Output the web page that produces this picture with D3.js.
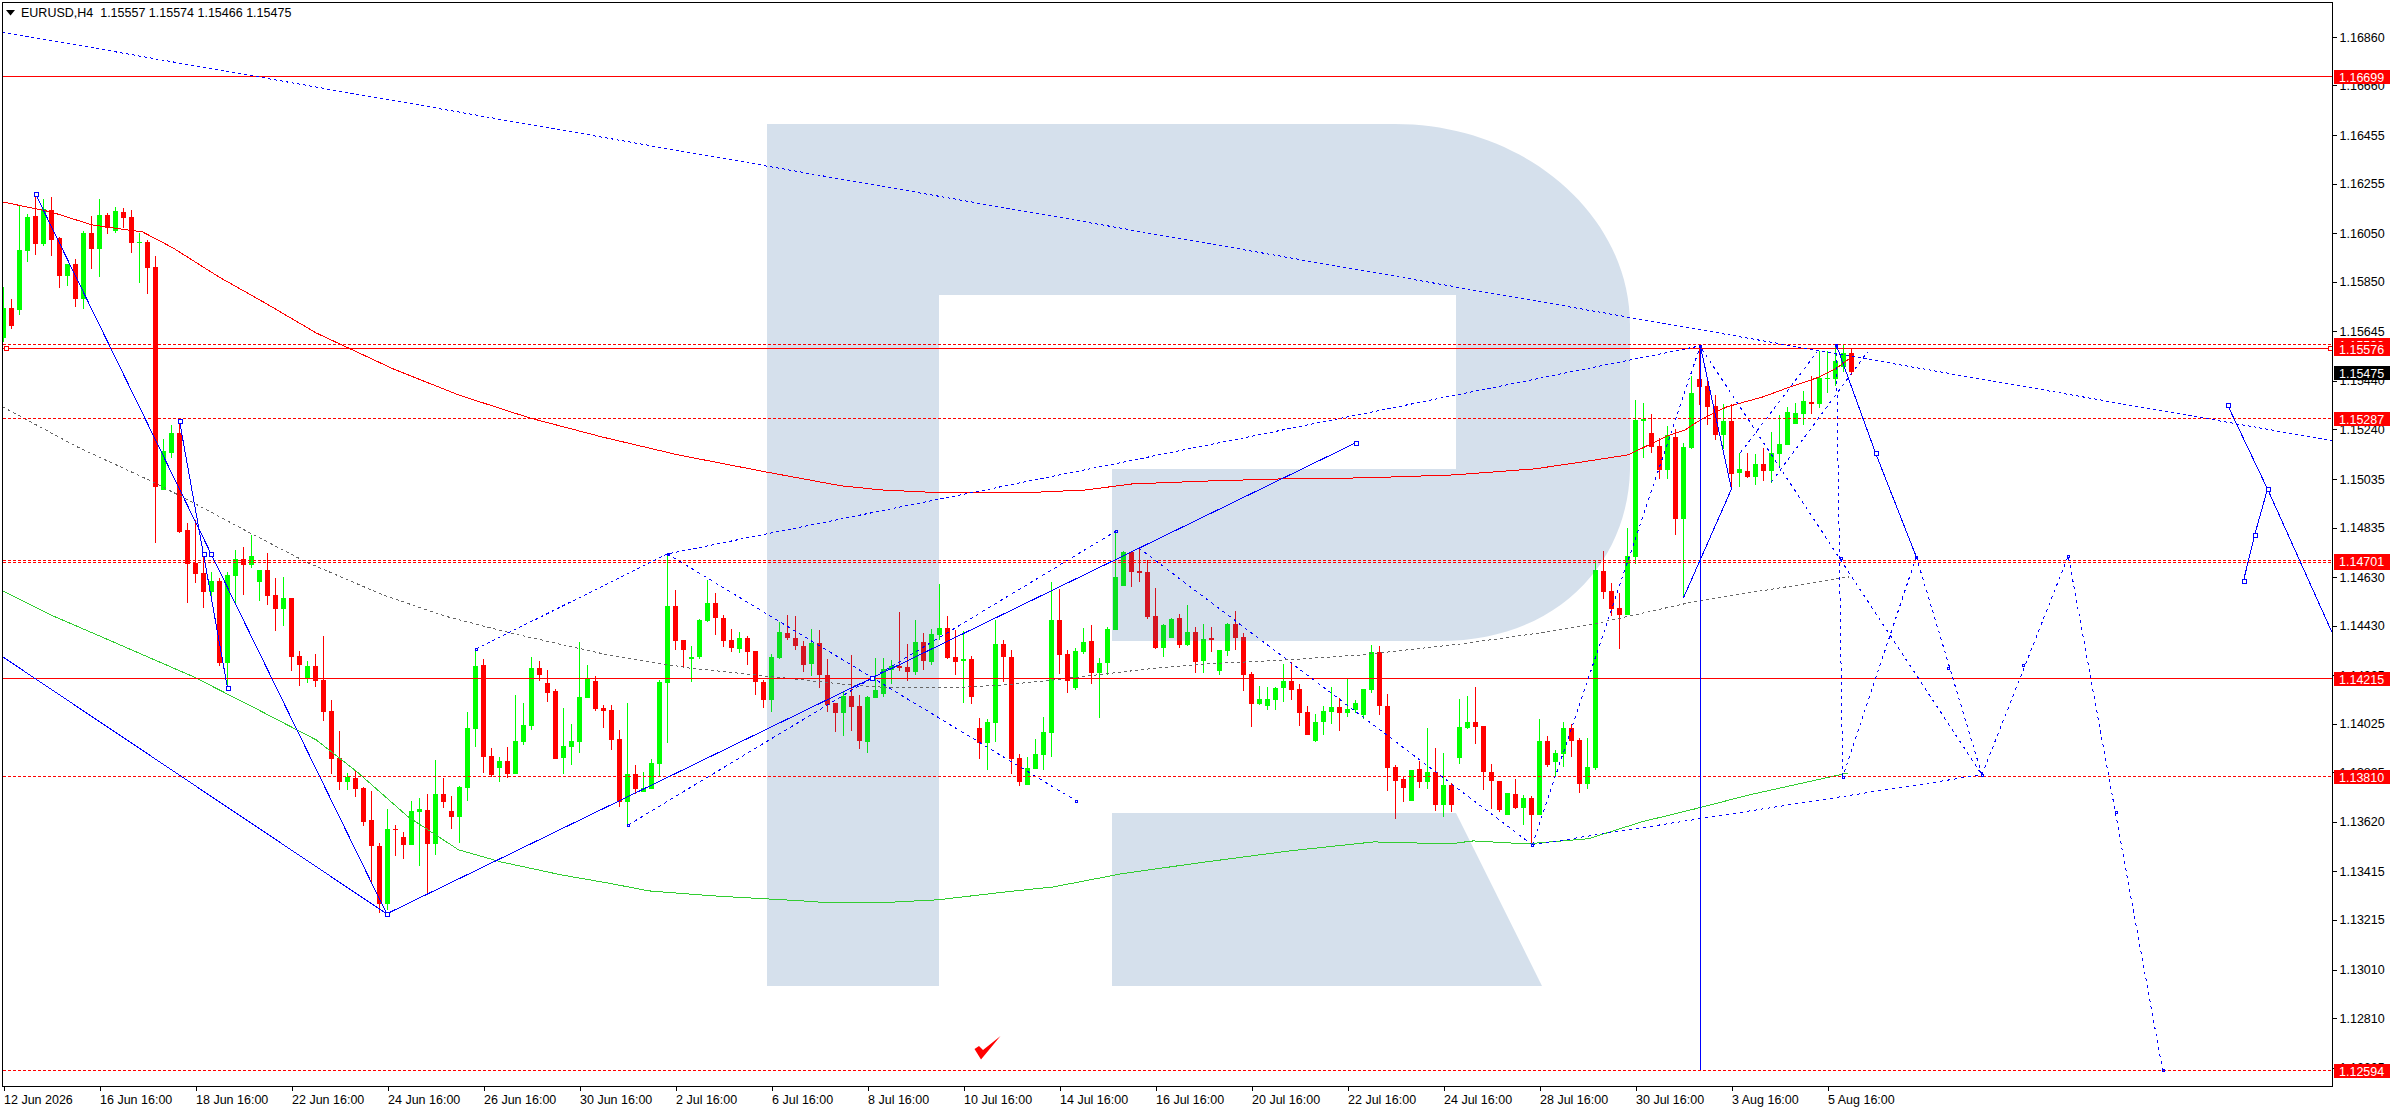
<!DOCTYPE html>
<html>
<head>
<meta charset="utf-8">
<title>EURUSD,H4</title>
<script src="https://cdn.jsdelivr.net/npm/d3@7"></script>
<style>
  html, body { margin: 0; padding: 0; background: #fff; overflow: hidden; }
  svg { display: block; }
  text { font-family: "Liberation Sans", sans-serif; font-size: 12.5px; fill: #000; }
</style>
</head>
<body>
<script>
var title = "EURUSD,H4  1.15557 1.15574 1.15466 1.15475";

var opens = [1.15618,1.15742,1.15733,1.15977,1.16121,1.16006,1.16146,1.16030,1.15874,1.15923,
1.15779,1.16051,1.15985,1.16125,1.16059,1.16138,1.16117,1.16010,1.16014,1.15911,
1.14990,1.15143,1.15226,1.14825,1.14689,1.14648,1.14569,1.14615,1.14276,1.14635,
1.14705,1.14681,1.14611,1.14660,1.14557,1.14499,1.14545,1.14305,1.14214,1.14264,
1.14206,1.14078,1.13884,1.13785,1.13801,1.13760,1.13628,1.13521,1.13281,1.13591,
1.13558,1.13525,1.13661,1.13669,1.13529,1.13735,1.13665,1.13640,1.13760,1.14004,
1.14268,1.13892,1.13843,1.13872,1.13818,1.13950,1.14016,1.14255,1.14194,1.14161,
1.13884,1.13929,1.13950,1.14132,1.14202,1.14090,1.14082,1.13962,1.13702,1.13818,
1.13744,1.13756,1.13859,1.14194,1.14511,1.14371,1.14293,1.14301,1.14450,1.14524,
1.14462,1.14371,1.14334,1.14379,1.14326,1.14198,1.14123,1.14297,1.14400,1.14379,
1.14346,1.14272,1.14359,1.14227,1.14111,1.14070,1.14140,1.14099,1.13950,1.14132,
1.14148,1.14247,1.14264,1.14260,1.14239,1.14363,1.14280,1.14392,1.14421,1.14301,
1.14284,1.14293,1.14008,1.13946,1.14028,1.14355,1.14301,1.13884,1.13773,1.13839,
1.13896,1.13987,1.14454,1.14313,1.14173,1.14322,1.14367,1.14235,1.14276,1.14412,
1.14594,1.14734,1.14656,1.14652,1.14470,1.14338,1.14379,1.14462,1.14350,1.14404,
1.14284,1.14379,1.14243,1.14326,1.14437,1.14383,1.14231,1.14107,1.14099,1.14123,
1.14173,1.14202,1.14169,1.14074,1.13954,1.14033,1.14074,1.14094,1.14070,1.14082,
1.14061,1.14165,1.14322,1.14099,1.13847,1.13797,1.13706,1.13839,1.13785,1.13826,
1.13690,1.13773,1.13884,1.14008,1.14033,1.14016,1.13826,1.13789,1.13649,1.13735,
1.13678,1.13719,1.13649,1.13954,1.13867,1.13900,1.14008,1.13958,1.13777,1.13843,
1.14656,1.14573,1.14503,1.14474,1.14714,1.15275,1.15226,1.15172,1.15073,1.15209,
1.14871,1.15164,1.15448,1.15420,1.15337,1.15217,1.15275,1.15060,1.15069,1.15044,
1.15098,1.15069,1.15139,1.15176,1.15263,1.15304,1.15354,1.15345,1.15448,1.15448,
1.15498,1.15557];

var highs = [1.15828,1.15779,1.16167,1.16130,1.16208,1.16192,1.16200,1.16035,1.15923,1.15944,
1.16059,1.16121,1.16192,1.16134,1.16158,1.16154,1.16146,1.16051,1.16022,1.15956,
1.15201,1.15259,1.15283,1.14854,1.14866,1.14722,1.14652,1.14627,1.14652,1.14743,
1.14755,1.14805,1.14660,1.14730,1.14627,1.14631,1.14545,1.14326,1.14284,1.14313,
1.14388,1.14123,1.13995,1.13822,1.13830,1.13764,1.13748,1.13533,1.13673,1.13607,
1.13578,1.13706,1.13719,1.13735,1.13876,1.13801,1.13727,1.13768,1.14074,1.14334,
1.14293,1.13925,1.13888,1.13929,1.14144,1.14111,1.14301,1.14284,1.14247,1.14169,
1.14090,1.14024,1.14363,1.14268,1.14222,1.14103,1.14103,1.14000,1.14111,1.13855,
1.13826,1.13880,1.14206,1.14726,1.14577,1.14371,1.14346,1.14458,1.14619,1.14565,
1.14474,1.14416,1.14404,1.14388,1.14326,1.14206,1.14313,1.14445,1.14474,1.14470,
1.14367,1.14416,1.14412,1.14293,1.14111,1.14161,1.14309,1.14144,1.14140,1.14297,
1.14297,1.14288,1.14487,1.14355,1.14454,1.14400,1.14416,1.14602,1.14470,1.14412,
1.14408,1.14305,1.14049,1.14045,1.14454,1.14371,1.14330,1.13900,1.13888,1.13962,
1.14053,1.14611,1.14582,1.14330,1.14338,1.14421,1.14433,1.14297,1.14425,1.14813,
1.14738,1.14734,1.14755,1.14701,1.14586,1.14437,1.14462,1.14478,1.14515,1.14425,
1.14437,1.14425,1.14330,1.14441,1.14491,1.14400,1.14239,1.14181,1.14177,1.14177,
1.14272,1.14280,1.14189,1.14099,1.14066,1.14099,1.14177,1.14132,1.14210,1.14123,
1.14169,1.14350,1.14346,1.14148,1.13855,1.13810,1.13834,1.13872,1.14008,1.13925,
1.13905,1.13781,1.14128,1.14140,1.14177,1.14016,1.13859,1.13789,1.13739,1.13797,
1.13731,1.13727,1.14045,1.13975,1.13917,1.14033,1.14024,1.13966,1.13966,1.14697,
1.14738,1.14606,1.14565,1.14833,1.15362,1.15349,1.15304,1.15205,1.15254,1.15242,
1.15184,1.15461,1.15581,1.15457,1.15382,1.15345,1.15345,1.15143,1.15143,1.15139,
1.15164,1.15230,1.15300,1.15333,1.15349,1.15399,1.15461,1.15564,1.15564,1.15589,
1.15589,1.15574];

var lows = [1.15601,1.15655,1.15713,1.15931,1.15960,1.15998,1.15956,1.15824,1.15832,1.15746,
1.15737,1.15903,1.15870,1.16047,1.16051,1.16072,1.15969,1.15845,1.15799,1.14771,
1.14990,1.15122,1.14813,1.14524,1.14606,1.14503,1.14549,1.14264,1.14165,1.14515,
1.14557,1.14668,1.14532,1.14515,1.14408,1.14429,1.14243,1.14181,1.14194,1.14177,
1.14037,1.13818,1.13752,1.13752,1.13723,1.13603,1.13368,1.13244,1.13256,1.13479,
1.13467,1.13525,1.13438,1.13327,1.13484,1.13678,1.13591,1.13533,1.13706,1.13929,
1.13822,1.13805,1.13785,1.13801,1.13818,1.13938,1.14000,1.14202,1.14115,1.13880,
1.13818,1.13855,1.13905,1.14132,1.14078,1.14008,1.13917,1.13682,1.13607,1.13735,
1.13744,1.13756,1.13810,1.13946,1.14330,1.14255,1.14198,1.14293,1.14445,1.14392,
1.14342,1.14322,1.14317,1.14268,1.14144,1.14090,1.14074,1.14293,1.14371,1.14330,
1.14239,1.14222,1.14173,1.14074,1.13991,1.13975,1.13995,1.13921,1.13905,1.14132,
1.14136,1.14189,1.14243,1.14202,1.14227,1.14247,1.14268,1.14371,1.14293,1.14227,
1.14111,1.14107,1.13880,1.13834,1.13950,1.14198,1.13818,1.13768,1.13773,1.13839,
1.13834,1.13888,1.14231,1.14152,1.14165,1.14313,1.14189,1.14049,1.14227,1.14412,
1.14594,1.14590,1.14611,1.14458,1.14334,1.14301,1.14379,1.14338,1.14346,1.14235,
1.14235,1.14322,1.14227,1.14305,1.14330,1.14161,1.14012,1.14103,1.14082,1.14082,
1.14115,1.14123,1.14016,1.13979,1.13950,1.13979,1.14024,1.13995,1.14053,1.14070,
1.14045,1.14152,1.14061,1.13748,1.13632,1.13702,1.13706,1.13760,1.13756,1.13665,
1.13640,1.13661,1.13859,1.14004,1.13942,1.13752,1.13673,1.13661,1.13649,1.13673,
1.13607,1.13521,1.13649,1.13847,1.13810,1.13847,1.13888,1.13739,1.13756,1.13834,
1.14540,1.14470,1.14334,1.14474,1.14685,1.15122,1.15143,1.15036,1.15036,1.14805,
1.14545,1.15159,1.15341,1.15259,1.15197,1.15159,1.14990,1.15003,1.15040,1.15011,
1.15027,1.15019,1.15085,1.15176,1.15263,1.15259,1.15304,1.15329,1.15391,1.15420,
1.15477,1.15466];

var closes = [1.15742,1.15667,1.15981,1.16117,1.16006,1.16150,1.16022,1.15874,1.15923,1.15779,
1.16051,1.15985,1.16125,1.16072,1.16142,1.16113,1.16010,1.16014,1.15907,1.15003,
1.15151,1.15226,1.14817,1.14685,1.14643,1.14569,1.14615,1.14276,1.14639,1.14705,
1.14681,1.14718,1.14660,1.14553,1.14499,1.14545,1.14301,1.14268,1.14264,1.14202,
1.14074,1.13880,1.13785,1.13805,1.13756,1.13620,1.13521,1.13281,1.13591,1.13587,
1.13525,1.13665,1.13673,1.13529,1.13735,1.13702,1.13640,1.13764,1.14008,1.14264,
1.13888,1.13814,1.13872,1.13818,1.13954,1.14020,1.14255,1.14227,1.14152,1.13880,
1.13933,1.13954,1.14136,1.14214,1.14086,1.14078,1.13958,1.13702,1.13818,1.13756,
1.13760,1.13863,1.14198,1.14511,1.14367,1.14330,1.14301,1.14454,1.14524,1.14462,
1.14367,1.14338,1.14379,1.14322,1.14198,1.14123,1.14301,1.14404,1.14379,1.14346,
1.14268,1.14359,1.14227,1.14103,1.14070,1.14140,1.14094,1.13954,1.14136,1.14165,
1.14251,1.14264,1.14255,1.14239,1.14363,1.14284,1.14396,1.14421,1.14297,1.14280,
1.14293,1.14136,1.13946,1.14033,1.14355,1.14301,1.13880,1.13785,1.13843,1.13900,
1.13991,1.14454,1.14309,1.14202,1.14326,1.14363,1.14235,1.14276,1.14416,1.14631,
1.14734,1.14652,1.14648,1.14466,1.14338,1.14433,1.14458,1.14350,1.14404,1.14280,
1.14375,1.14371,1.14330,1.14437,1.14379,1.14227,1.14107,1.14128,1.14128,1.14173,
1.14202,1.14165,1.14070,1.13979,1.14033,1.14078,1.14094,1.14070,1.14086,1.14111,
1.14169,1.14322,1.14099,1.13843,1.13789,1.13760,1.13834,1.13785,1.13826,1.13690,
1.13773,1.13690,1.14012,1.14033,1.14012,1.13826,1.13789,1.13669,1.13739,1.13678,
1.13719,1.13649,1.13954,1.13855,1.13905,1.14008,1.13954,1.13777,1.13847,1.14660,
1.14569,1.14499,1.14474,1.14718,1.15279,1.15283,1.15168,1.15073,1.15217,1.14871,
1.15168,1.15391,1.15415,1.15333,1.15217,1.15275,1.15056,1.15077,1.15044,1.15098,
1.15069,1.15143,1.15180,1.15312,1.15308,1.15358,1.15345,1.15453,1.15453,1.15523,
1.15556,1.15475];

// moving averages as [bar, price]
var redMa = [[-0.1,1.16179],[5.9,1.16138],[11.1,1.16084],[17.4,1.16055],[21.2,1.15989],[26.9,1.15870],[32.7,1.15762],[39.1,1.15638],[48.7,1.15490],[56.9,1.15382],[65.8,1.15287],[74.8,1.15209],[84.3,1.15135],[95.2,1.15065],[104.7,1.15007],[109.8,1.14990],[117.4,1.14978],[127.3,1.14978],[135.3,1.14990],[141.1,1.15015],[150.6,1.15027],[160.2,1.15036],[170.3,1.15040],[181.2,1.15052],[191.4,1.15077],[197.4,1.15106],[203.1,1.15135],[208,1.15213],[210.2,1.15238],[212.1,1.15279],[215.4,1.15333],[219.9,1.15374],[223.3,1.15415],[226.7,1.15453],[229.2,1.15494],[231,1.15539]];
var grayMa = [[-0.1,1.15333],[9.2,1.15168],[18.7,1.15023],[23.8,1.14936],[30.8,1.14813],[37.8,1.14693],[47.4,1.14557],[55.1,1.14470],[63.3,1.14400],[76.1,1.14305],[85.7,1.14255],[95.2,1.14222],[105.9,1.14185],[111.1,1.14173],[118.7,1.14173],[125.1,1.14185],[131.4,1.14206],[137.8,1.14231],[144.2,1.14255],[150.6,1.14272],[160.2,1.14288],[169.7,1.14309],[182.4,1.14355],[192.1,1.14400],[198.3,1.14433],[211.2,1.14528],[220.4,1.14577],[230.7,1.14631]];
var greenMa = [[-0.1,1.14573],[5.9,1.14474],[12.3,1.14383],[23.8,1.14218],[31.4,1.14090],[39.1,1.13958],[44.2,1.13826],[50.6,1.13640],[56.9,1.13504],[62.1,1.13455],[69.7,1.13401],[76.1,1.13364],[80.6,1.13335],[88.8,1.13314],[99.6,1.13294],[103.4,1.13285],[109.2,1.13285],[116.8,1.13298],[125.4,1.13331],[131.2,1.13351],[139.7,1.13405],[149.3,1.13450],[160.8,1.13500],[171.3,1.13537],[180.8,1.13529],[183.7,1.13541],[190.4,1.13529],[198.1,1.13550],[204.8,1.13620],[211.4,1.13673],[218.2,1.13731],[230.6,1.13822]];

// trend objects as [bar, price]
var solidLines = [
  [[4,1.16212],[47.9,1.13240],[169,1.15184]],
  [[-0.1,1.14301],[47.9,1.13240]],
  [[22,1.15275],[28,1.14173]],
  [[210,1.14545],[216,1.14994],[212.1,1.15585]],
  [[212.1,1.15585],[212.1,1.12594]],
  [[229.1,1.15589],[234,1.15143],[239.1,1.14714]],
  [[278,1.15341],[283,1.14994],[291.2,1.14392]],
  [[283,1.14994],[281.4,1.14805],[280,1.14615]]
];
var longDotted = [
  [[-0.2,1.16881],[291.2,1.15193]],
  [[59.1,1.14334],[83,1.14726],[212.1,1.15585]]
];
var dashedLines = [
  [[78.1,1.13607],[139.1,1.14821]],
  [[83,1.14726],[134.1,1.13706]],
  [[141.9,1.14751],[191.1,1.13525]],
  [[191.1,1.13525],[212.1,1.15585]],
  [[191.1,1.13525],[247.3,1.13814]],
  [[212.3,1.15572],[247.3,1.13814]],
  [[229.1,1.15585],[229.9,1.13805]],
  [[239.1,1.14714],[229.9,1.13805]],
  [[239.1,1.14714],[247.3,1.13814]],
  [[247.3,1.13814],[258.1,1.14718],[269.9,1.12594]],
  [[221,1.15023],[233,1.15560]],
  [[217.1,1.15143],[226.7,1.15560]]
];
var bigMarkers = [[4,1.16212],[47.9,1.13240],[22,1.15275],[25,1.14726],[25.9,1.14726],[28,1.14173],[108.5,1.14214],[169,1.15184],[234,1.15143],[278,1.15341],[283,1.14994],[281.4,1.14805],[280,1.14615]];
var smallMarkers = [[59.1,1.14334],[83,1.14726],[139.1,1.14821],[134.1,1.13706],[78.1,1.13607],[191.1,1.13525],[212.1,1.15585],[229.1,1.15589],[229.7,1.14710],[239.1,1.14714],[243.1,1.14255],[252.4,1.14268],[258.1,1.14718],[264,1.13661],[269.9,1.12594],[229.9,1.13805],[247.3,1.13814]];
var levelMarkers = [[0.25,1.15576],[290.8,1.15576]];

// horizontal levels
var solidLevels = [1.16699, 1.15576, 1.14215];
var dashedLevels = [1.15593, 1.15287, 1.14701, 1.14692, 1.13810, 1.12594];
var levelLabels = [1.16699, 1.15593, 1.15576, 1.15287, 1.14692, 1.14701, 1.14215, 1.13810, 1.12594];
var lastPrice = 1.15475;

var priceTicks = [1.16860,1.16660,1.16455,1.16255,1.16050,1.15850,1.15645,1.15440,1.15240,1.15035,1.14835,1.14630,1.14430,1.14225,1.14025,1.13825,1.13620,1.13415,1.13215,1.13010,1.12810,1.12605];
var timeLabels = ["12 Jun 2026","16 Jun 16:00","18 Jun 16:00","22 Jun 16:00","24 Jun 16:00","26 Jun 16:00","30 Jun 16:00","2 Jul 16:00","6 Jul 16:00","8 Jul 16:00","10 Jul 16:00","14 Jul 16:00","16 Jul 16:00","20 Jul 16:00","22 Jul 16:00","24 Jul 16:00","28 Jul 16:00","30 Jul 16:00","3 Aug 16:00","5 Aug 16:00"];
var barsPerTick = 12;

var width = 2396, height = 1110;
var plotLeft = 2.5, plotRight = 2332.5, plotTop = 2.5, plotBottom = 1086.5;

var x = d3.scaleLinear().domain([0, 228]).range([3.5, 1827.5]);
var y = d3.scaleLinear().domain([1.16860, 1.12810]).range([37, 1018]);

var svg = d3.select("body").append("svg").attr("width", width).attr("height", height);

svg.append("defs").append("clipPath").attr("id", "plot")
  .append("rect")
  .attr("x", plotLeft).attr("y", plotTop)
  .attr("width", plotRight - plotLeft).attr("height", plotBottom - plotTop);

var plot = svg.append("g").attr("clip-path", "url(#plot)");

// candles
var candles = plot.append("g").attr("shape-rendering", "crispEdges");
var colour = function (i) { return closes[i] >= opens[i] ? "#00ff00" : "#ff0000"; };
candles.selectAll("rect.wick").data(d3.range(opens.length)).enter().append("rect")
  .attr("class", "wick")
  .attr("x", function (i) { return x(i) - 0.5; })
  .attr("y", function (i) { return y(highs[i]); })
  .attr("width", 1)
  .attr("height", function (i) { return y(lows[i]) - y(highs[i]); })
  .attr("fill", colour);
candles.selectAll("rect.body").data(d3.range(opens.length)).enter().append("rect")
  .attr("class", "body")
  .attr("x", function (i) { return x(i) - 2.5; })
  .attr("y", function (i) { return y(Math.max(opens[i], closes[i])); })
  .attr("width", 5)
  .attr("height", function (i) { return Math.max(1, Math.abs(y(opens[i]) - y(closes[i]))); })
  .attr("fill", colour);

// watermark sits over the candles and tints them
plot.append("path")
  .attr("d", "M767,124 L1395,124 C1525,124 1630,215 1630,325 L1630,470 C1628,560 1560,641 1440,641 L1112,641 L1112,469 L1456,469 L1456,295 L939,295 L939,986 L767,986 Z M1112,813 L1456,813 L1542,986 L1112,986 Z")
  .attr("fill", "rgb(45,100,160)")
  .attr("opacity", 0.2);

var line = d3.line()
  .x(function (d) { return x(d[0]); })
  .y(function (d) { return y(d[1]); });

// everything below is aliased like the terminal draws it
var objects = plot.append("g").attr("shape-rendering", "crispEdges");

// moving averages
objects.append("path").attr("d", line(redMa)).attr("fill", "none").attr("stroke", "#ff0000");
objects.append("path").attr("d", line(greenMa)).attr("fill", "none").attr("stroke", "#32cd32");
objects.append("path").attr("d", line(grayMa)).attr("fill", "none").attr("stroke", "#666").attr("stroke-dasharray", "3,3");

// horizontal levels
objects.selectAll("line.solid-level").data(solidLevels).enter().append("line")
  .attr("class", "solid-level")
  .attr("x1", plotLeft).attr("x2", plotRight)
  .attr("y1", function (d) { return Math.round(y(d)) + 0.5; })
  .attr("y2", function (d) { return Math.round(y(d)) + 0.5; })
  .attr("stroke", "#ff0000");
objects.selectAll("line.dashed-level").data(dashedLevels).enter().append("line")
  .attr("class", "dashed-level")
  .attr("x1", plotLeft).attr("x2", plotRight)
  .attr("y1", function (d) { return Math.round(y(d)) + 0.5; })
  .attr("y2", function (d) { return Math.round(y(d)) + 0.5; })
  .attr("stroke", "#ff0000")
  .attr("stroke-dasharray", "3,2");

// trend objects
objects.selectAll("path.solid").data(solidLines).enter().append("path")
  .attr("class", "solid")
  .attr("d", line).attr("fill", "none").attr("stroke", "#0000ff");
objects.selectAll("path.long").data(longDotted).enter().append("path")
  .attr("class", "long")
  .attr("d", line).attr("fill", "none").attr("stroke", "#0000ff")
  .attr("stroke-dasharray", "3,3");
objects.selectAll("path.dash").data(dashedLines).enter().append("path")
  .attr("class", "dash")
  .attr("d", line).attr("fill", "none").attr("stroke", "#0000ff")
  .attr("stroke-dasharray", "3,4");

function markers(data, size, stroke, fill) {
  objects.append("g")
    .selectAll("rect").data(data).enter().append("rect")
    .attr("x", function (d) { return Math.round(x(d[0]) - size / 2) + 0.5; })
    .attr("y", function (d) { return Math.round(y(d[1]) - size / 2) + 0.5; })
    .attr("width", size).attr("height", size)
    .attr("fill", fill).attr("stroke", stroke);
}
markers(bigMarkers, 4, "#0000ff", "#fff");
markers(smallMarkers, 2, "#0000ff", "none");
markers(levelMarkers, 4, "#ff0000", "#fff");

// red tick mark near the bottom
plot.append("path")
  .attr("d", "M974.5,1049 L981,1059.5 L1000.5,1036 L983,1050 L979,1046 Z")
  .attr("fill", "#ff0000");

// title
svg.append("path").attr("d", "M6,10 L15,10 L10.5,15.5 Z").attr("fill", "#000");
svg.append("text").attr("x", 21).attr("y", 17).style("white-space", "pre").text(title);

// axes
var yAxis = d3.axisRight(y).tickValues(priceTicks).tickFormat(d3.format(".5f")).tickSize(4).tickPadding(3);
var gy = svg.append("g").attr("transform", "translate(" + plotRight + ",0)").call(yAxis);
var xAxis = d3.axisBottom(x)
  .tickValues(timeLabels.map(function (d, i) { return i * barsPerTick; }))
  .tickFormat(function (d) { return timeLabels[d / barsPerTick]; })
  .tickSize(4).tickPadding(3);
var gx = svg.append("g").attr("transform", "translate(0," + plotBottom + ")").call(xAxis);
gy.select(".domain").remove();
gx.select(".domain").remove();
gx.selectAll("text").attr("text-anchor", "start").attr("dy", "0.8em");
svg.selectAll(".tick text").style("font-family", "'Liberation Sans', sans-serif").style("font-size", "12.5px");
svg.selectAll(".tick line").attr("stroke", "#000").attr("shape-rendering", "crispEdges");

svg.append("rect")
  .attr("x", plotLeft).attr("y", plotTop)
  .attr("width", plotRight - plotLeft).attr("height", plotBottom - plotTop)
  .attr("fill", "none").attr("stroke", "#000").attr("shape-rendering", "crispEdges");

// price labels on the right edge
function priceLabel(price, bg) {
  var g = svg.append("g").attr("transform", "translate(2334," + Math.round(y(price)) + ")");
  g.append("rect").attr("x", 0).attr("y", -6).attr("width", 56).attr("height", 14).attr("fill", bg);
  g.append("text").attr("x", 5).attr("y", 6).style("fill", "#fff").text(d3.format(".5f")(price));
}
levelLabels.forEach(function (d) { priceLabel(d, "#ff0000"); });
priceLabel(lastPrice, "#000");
</script>
</body>
</html>
